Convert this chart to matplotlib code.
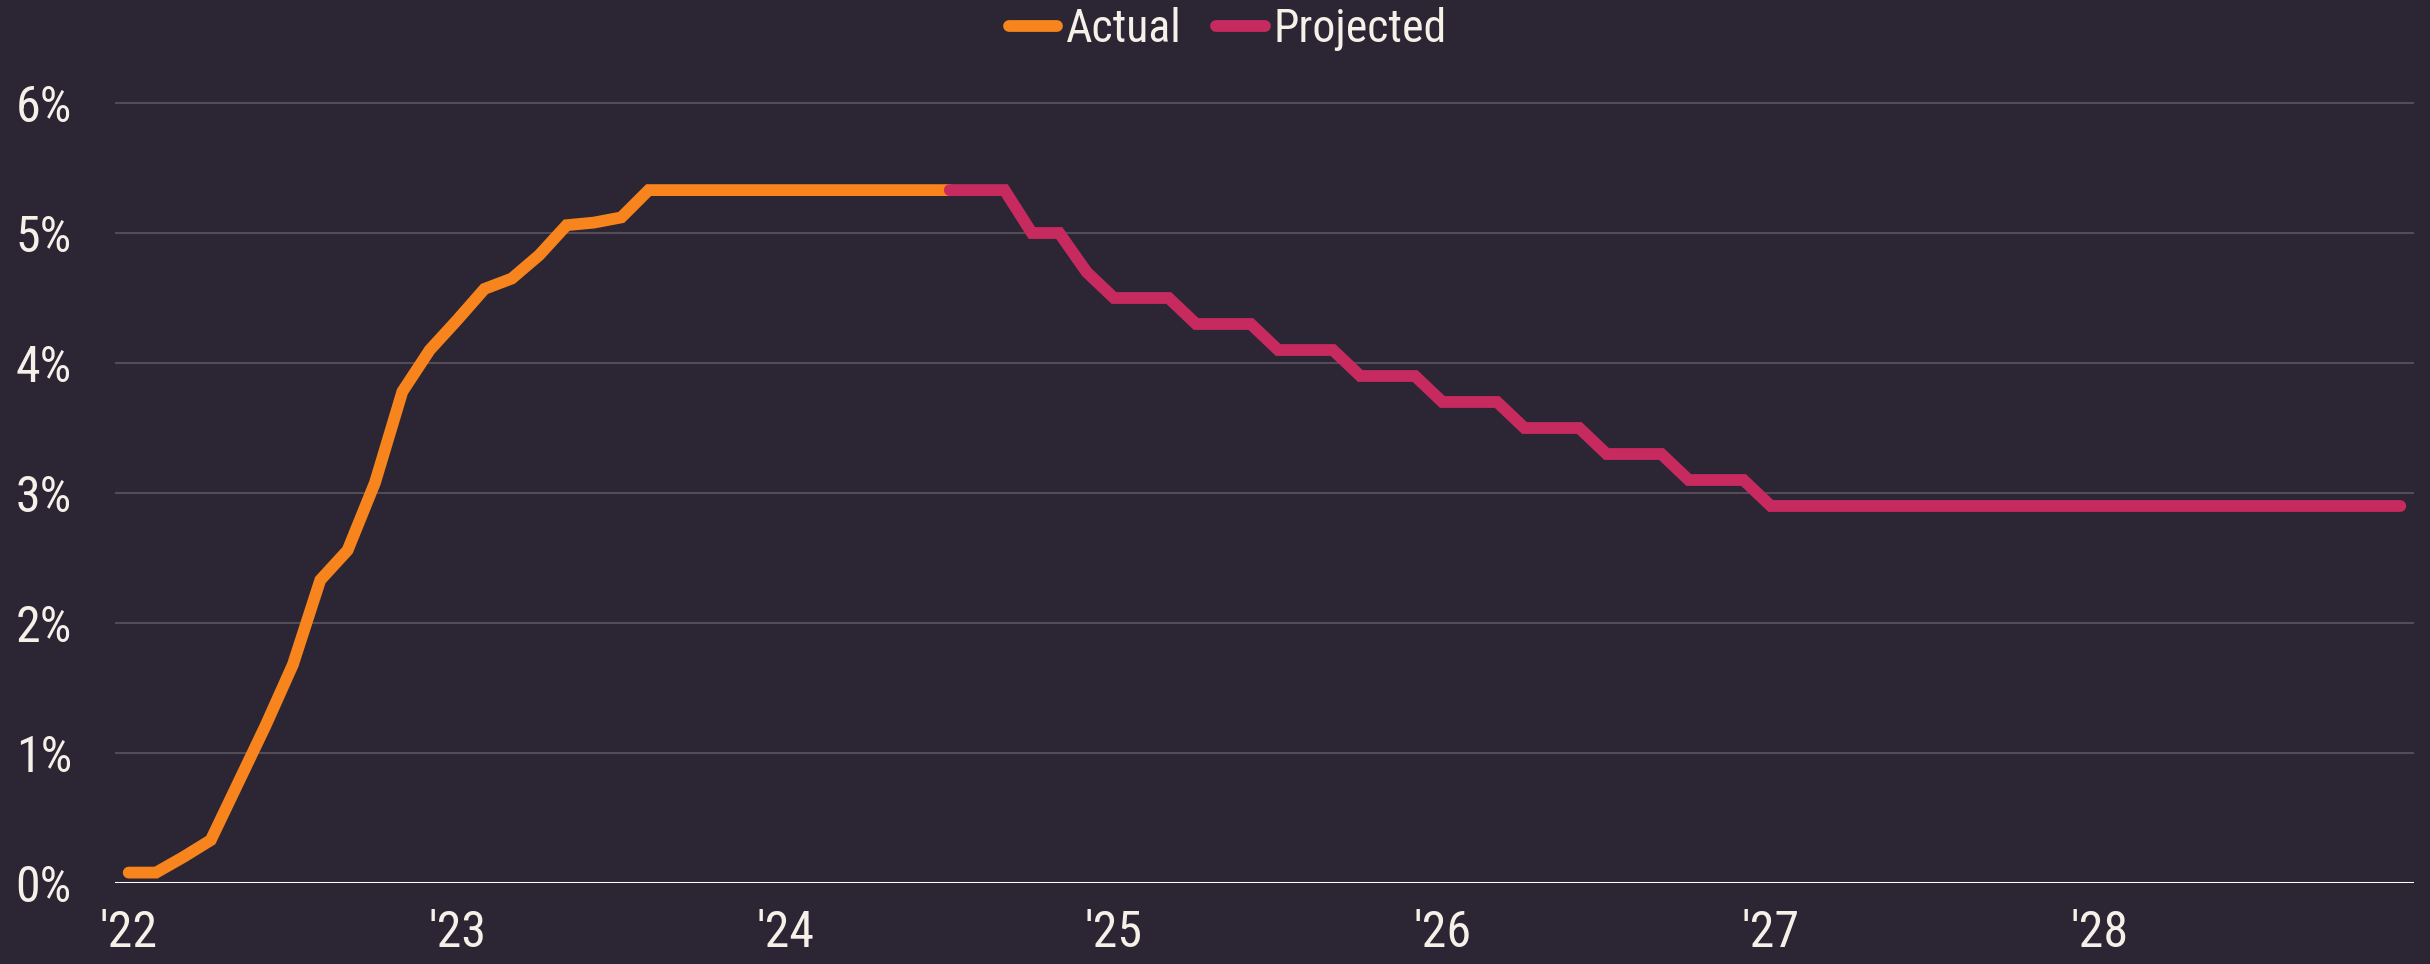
import matplotlib
matplotlib.use("Agg")
import matplotlib.pyplot as plt
from matplotlib import font_manager
import numpy as np

# ---- data ----
year_labels = ["'22", "'23", "'24", "'25", "'26", "'27", "'28"]
actual = [0.08, 0.08, 0.20, 0.33, 0.77, 1.21, 1.68, 2.33, 2.56, 3.08, 3.78, 4.10,
          4.33, 4.57, 4.65, 4.83, 5.06, 5.08, 5.12, 5.33, 5.33, 5.33, 5.33, 5.33,
          5.33, 5.33, 5.33, 5.33, 5.33, 5.33, 5.33]
projected = [5.33, 5.33, 5.33, 5.00, 5.00, 4.70,
             4.50, 4.50, 4.50, 4.30, 4.30, 4.30, 4.10, 4.10, 4.10, 3.90, 3.90, 3.90,
             3.70, 3.70, 3.70, 3.50, 3.50, 3.50, 3.30, 3.30, 3.30, 3.10, 3.10, 3.10,
             2.90, 2.90, 2.90, 2.90, 2.90, 2.90, 2.90, 2.90, 2.90, 2.90, 2.90, 2.90,
             2.90, 2.90, 2.90, 2.90, 2.90, 2.90, 2.90, 2.90, 2.90, 2.90, 2.90, 2.90]
y_ticks = [0, 1, 2, 3, 4, 5, 6]
y_tick_labels = ["0%", "1%", "2%", "3%", "4%", "5%", "6%"]

# month indexes (Jan 2022 = 0)
x_actual = np.arange(len(actual))
x_proj = np.arange(len(actual) - 1, len(actual) - 1 + len(projected))

BG = "#2C2533"
ORANGE = "#F7841C"
MAGENTA = "#C72A5F"
TEXT = "#F5F1E8"
GRID = "#524C58"

# pick a condensed sans font if one is installed
names = {f.name for f in font_manager.fontManager.ttflist}
stretches = {}
for f in font_manager.fontManager.ttflist:
    stretches.setdefault(f.name, set()).add(str(f.stretch))
family = None
for cand in ['Liberation Sans Narrow', 'Arial Narrow', 'Roboto Condensed',
             'Open Sans Condensed', 'Noto Sans Condensed', 'DejaVu Sans Condensed']:
    if cand in names:
        family = cand
        break
stretch = 'normal'
if family is None:
    for cand in ['Roboto', 'Open Sans', 'Noto Sans', 'Liberation Sans', 'DejaVu Sans']:
        st = stretches.get(cand, set())
        if any(s in ('condensed', 'semi-condensed', 'extra-condensed', '75', '87', '62')
               for s in st) or any('ondens' in s for s in st):
            family = cand
            stretch = 'condensed'
            break
if family is None:
    family = 'Liberation Sans'
plt.rcParams['font.family'] = [family, 'Liberation Sans', 'DejaVu Sans']
plt.rcParams['font.stretch'] = stretch

fig = plt.figure(figsize=(24.3, 9.64), dpi=100, facecolor=BG)
ax = fig.add_axes([115/2430, 1 - 883/964, (2414 - 115)/2430, (883 - 70.5)/964])
ax.set_facecolor(BG)

for y in y_ticks[1:]:
    ax.axhline(y, color=GRID, lw=1.5, zorder=1)
ax.axhline(0, color="white", lw=2.2, zorder=2)

lw = 8.5
ax.plot(x_actual, actual, color=ORANGE, lw=lw, solid_capstyle='round',
        solid_joinstyle='miter', label="Actual", zorder=3)
ax.plot(x_proj, projected, color=MAGENTA, lw=lw, solid_capstyle='round',
        solid_joinstyle='miter', label="Projected", zorder=4)

ax.set_xlim(-0.5, 83.5)
ax.set_ylim(0, 6.25)
ax.set_xticks(np.arange(0, 12 * len(year_labels), 12))
ax.set_xticklabels(year_labels)
ax.set_yticks(y_ticks)
ax.set_yticklabels(y_tick_labels)
ax.tick_params(axis='both', length=0, labelsize=36, colors=TEXT)
ax.tick_params(axis='y', pad=31)
ax.tick_params(axis='x', pad=19)
for s in ax.spines.values():
    s.set_visible(False)

leg = fig.legend(loc='center', bbox_to_anchor=(1228/2430, 1 - 29/964), ncol=2,
                 frameon=False, fontsize=33, handlelength=1.05, handletextpad=0.2,
                 columnspacing=0.75, borderpad=0, labelcolor=TEXT)
for h in leg.get_lines():
    h.set_linewidth(lw)
    h.set_solid_capstyle('round')

fig.savefig("out.png", dpi=100, facecolor=BG)
